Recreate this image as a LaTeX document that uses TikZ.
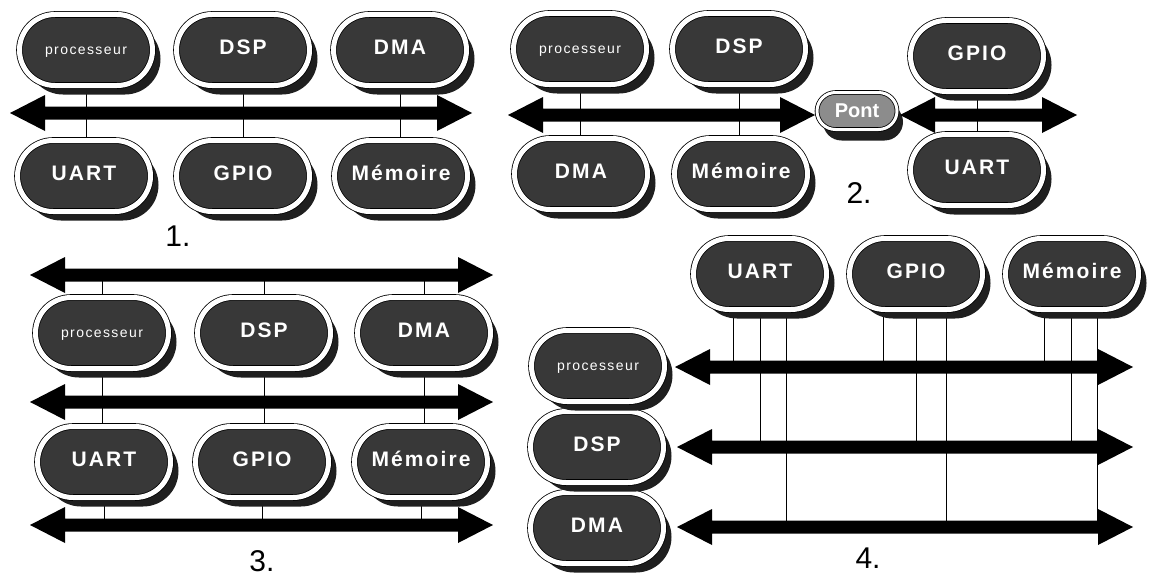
\documentclass[tikz,border=0pt]{standalone}
\usepackage{fontspec}
\setmainfont{Liberation Sans}
\newfontfamily\pillfont[LetterSpace=10]{Liberation Sans}
\usetikzlibrary{shapes.misc,shadows,backgrounds}

% the processor's name is set smaller and in regular weight
\newcommand{\proclabel}{{\fontsize{14}{14}\selectfont\mdseries processeur}}

% double-headed bus arrow: name, left tip x, right tip x, y
\newcommand{\drawbus}[4]{%
  \coordinate (#1-w) at (#2,#4);
  \coordinate (#1-e) at (#3,#4);
  \fill[busfill] (#1-w) -- (#2+35,#4-18) -- (#2+35,#4-6.5) -- (#3-35,#4-6.5)
    -- (#3-35,#4-18) -- (#1-e) -- (#3-35,#4+18) -- (#3-35,#4+6.5)
    -- (#2+35,#4+6.5) -- (#2+35,#4+18) -- cycle;}

\tikzset{
  pillbase/.style={rounded rectangle, inner sep=0pt, draw=black, line width=0.8pt,
    double=white, text=white},
  pill/.style={pillbase, minimum width=133pt, minimum height=71pt,
    double distance=5pt, fill=black!78,
    text height=15pt, text depth=6pt,
    font=\pillfont\fontsize{21}{21}\selectfont\bfseries,
    drop shadow={shadow xshift=8pt, shadow yshift=-9pt, fill=black!88, opacity=1}},
  bridge/.style={pillbase, minimum width=80pt, minimum height=37pt,
    double distance=3pt, fill=black!45,
    font=\fontsize{20}{20}\selectfont\bfseries,
    drop shadow={shadow xshift=6pt, shadow yshift=-11pt, fill=black!88, opacity=1}},
  link/.style={draw=black, line width=0.8pt},
  busfill/.style={fill=black},
  tag/.style={font=\fontsize{30}{30}\selectfont, text=black, inner sep=0pt}
}

\begin{document}
\begin{tikzpicture}[x=1pt,y=-1pt]
\begin{scope}[on background layer]
  \fill[white] (0,0) rectangle (1151,578);
\end{scope}
\useasboundingbox (0,0) rectangle (1151,578);

% ---------- 1. single shared bus ----------
\node[pill] (a-proc) at (86,50)  {\proclabel};
\node[pill] (a-dsp)  at (243,50) {DSP};
\node[pill] (a-dma)  at (400,50) {DMA};
\node[pill] (a-uart) at (84,176) {UART};
\node[pill] (a-gpio) at (243,176) {GPIO};
\node[pill] (a-mem)  at (401,176) {Mémoire};
\drawbus{a}{10}{472}{113}
\begin{scope}[on background layer]
  \draw[link] (a-proc) -- (a-proc |- a-uart);
  \draw[link] (a-dsp) -- (a-dsp |- a-gpio);
  \draw[link] (a-dma) -- (a-dma |- a-mem);
\end{scope}
\node[tag] (t1) at (178,236) {1.};

% ---------- 2. two buses joined by a bridge ----------
\node[pill] (b-proc) at (580,49)  {\proclabel};
\node[pill] (b-dsp)  at (739,49)  {DSP};
\node[pill] (b-dma)  at (581,174) {DMA};
\node[pill] (b-mem)  at (741,174) {Mémoire};
\node[pill] (b-gpio) at (977,56)  {GPIO};
\node[pill] (b-uart) at (977,170) {UART};
\node[bridge] (b-pont) at (857,111) {Pont};
\drawbus{b1}{508}{815}{115}
\drawbus{b2}{900}{1077}{115}
\begin{scope}[on background layer]
  \draw[link] (b-proc) -- (b-proc |- b-dma);
  \draw[link] (b-dsp) -- (b-dsp |- b-mem);
  \draw[link] (b-gpio) -- (b-gpio |- b-uart);
\end{scope}
\node[tag] (t2) at (859,193) {2.};

% ---------- 3. three stacked buses ----------
\node[pill] (c-proc) at (102,333) {\proclabel};
\node[pill] (c-dsp)  at (264,333) {DSP};
\node[pill] (c-dma)  at (424,333) {DMA};
\node[pill] (c-uart) at (104,462) {UART};
\node[pill] (c-gpio) at (262,462) {GPIO};
\node[pill] (c-mem)  at (421,462) {Mémoire};
\drawbus{c1}{30}{493}{275}
\drawbus{c2}{30}{493}{402}
\drawbus{c3}{30}{493}{525}
\begin{scope}[on background layer]
  \draw[link] (c-proc) -- (c-proc |- c1-w);
  \draw[link] (c-dsp) -- (c-dsp |- c1-w);
  \draw[link] (c-dma) -- (c-dma |- c1-w);
  \draw[link] (c-proc) -- (c-proc |- c-uart);
  \draw[link] (c-dsp) -- (c-dsp |- c-gpio);
  \draw[link] (c-dma) -- (c-dma |- c-mem);
  \draw[link] (c-uart) -- (c-uart |- c3-w);
  \draw[link] (c-gpio) -- (c-gpio |- c3-w);
  \draw[link] (c-mem) -- (c-mem |- c3-w);
\end{scope}
\node[tag] (t3) at (262,561) {3.};

% ---------- 4. one bus per master (crossbar) ----------
\node[pill] (d-uart) at (760,274)  {UART};
\node[pill] (d-gpio) at (916,274)  {GPIO};
\node[pill] (d-mem)  at (1072,274) {Mémoire};
\node[pill] (d-dma)  at (597,528) {DMA};
\node[pill] (d-dsp)  at (597,447) {DSP};
\node[pill] (d-proc) at (598,366) {\proclabel};
\drawbus{d1}{675}{1133}{367}
\drawbus{d2}{677}{1133}{447}
\drawbus{d3}{677}{1133}{527}
\coordinate (du1) at ([xshift=-27pt]d-uart.center);
\coordinate (du2) at (d-uart.center);
\coordinate (du3) at ([xshift=26pt]d-uart.center);
\coordinate (dg1) at ([xshift=-33pt]d-gpio.center);
\coordinate (dg2) at (d-gpio.center);
\coordinate (dg3) at ([xshift=30pt]d-gpio.center);
\coordinate (dm1) at ([xshift=-28pt]d-mem.center);
\coordinate (dm2) at ([xshift=-1pt]d-mem.center);
\coordinate (dm3) at ([xshift=25pt]d-mem.center);
\begin{scope}[on background layer]
  \draw[link] (du1) -- (du1 |- d1-w);
  \draw[link] (du2) -- (du2 |- d2-w);
  \draw[link] (du3) -- (du3 |- d3-w);
  \draw[link] (dg1) -- (dg1 |- d1-w);
  \draw[link] (dg2) -- (dg2 |- d2-w);
  \draw[link] (dg3) -- (dg3 |- d3-w);
  \draw[link] (dm1) -- (dm1 |- d1-w);
  \draw[link] (dm2) -- (dm2 |- d2-w);
  \draw[link] (dm3) -- (dm3 |- d3-w);
\end{scope}
\node[tag] (t4) at (868,558) {4.};
\end{tikzpicture}
\end{document}
